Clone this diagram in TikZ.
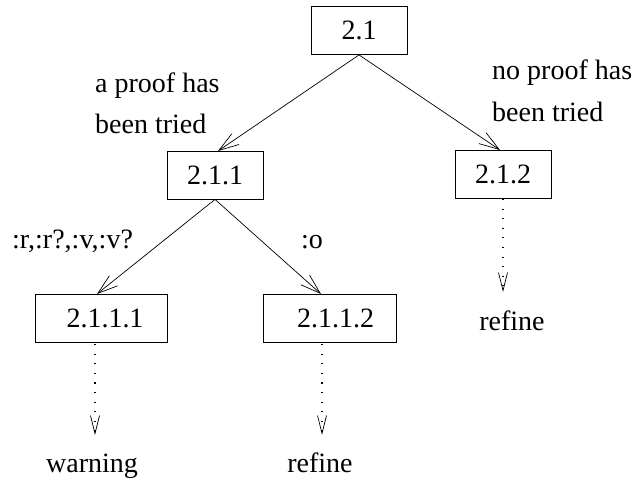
\documentclass[tikz,border=0pt]{standalone}
\usepackage{fontspec}
\setmainfont{Liberation Serif}
\usetikzlibrary{arrows.meta}
\begin{document}
\begin{tikzpicture}[x=1pt,y=-1pt,
  box/.style={draw,line width=0.8pt,minimum width=96pt,minimum height=48pt,inner sep=0pt,font=\fontsize{28}{30}\selectfont},
  lbl/.style={font=\fontsize{28}{30}\selectfont,anchor=base west,inner sep=0pt},
  res/.style={font=\fontsize{28}{30}\selectfont,anchor=base,inner sep=0pt},
  edge/.style={line width=0.7pt,-{Straight Barb[length=20pt,width=13pt,line width=0.7pt]}},
  dotedge/.style={line width=1.1pt,dash pattern=on 1.1pt off 8.5pt,-{Straight Barb[length=18pt,width=9pt,line width=0.7pt]}}]
\useasboundingbox (0,0) rectangle (635,483);

\node[box] (n21) at (359,30.5) {2.1};
\node[box] (n211) at (215,175) {2.1.1};
\node[box] (n212) at (503,174.5) {2.1.2};
\node[box,minimum width=132pt] (n2111) at (101,318.5) {\hspace*{8pt}2.1.1.1};
\node[box,minimum width=133pt] (n2112) at (329.5,318.5) {\hspace*{12pt}2.1.1.2};

\node[res] (w) at (92,472) {warning};
\node[res] (r1) at (320,472) {refine};
\node[res] (r2) at (512,330) {refine};

\coordinate (w0) at (95,435);
\coordinate (r10) at (322,435);
\coordinate (r20) at (503,292);

\draw[edge] (n21.south) -- (218,151);
\draw[edge] (n21.south) -- (500,150);
\draw[edge] (n211.south) -- (97,294);
\draw[edge] (n211.south) -- (321,294);

\draw[dotedge] (95,344) -- (w0);
\draw[dotedge] (322,344) -- (r10);
\draw[dotedge] (n212.south) -- (r20);

\node[lbl] (la1) at (95,92) {a proof has};
\node[lbl] (la2) at (95,133) {been tried};
\node[lbl] (lb1) at (492,79) {no proof has};
\node[lbl] (lb2) at (492,121) {been tried};
\node[lbl] (lc) at (12,248) {:r,:r?,:v,:v?};
\node[lbl] (ld) at (301,248) {:o};
\end{tikzpicture}
\end{document}
